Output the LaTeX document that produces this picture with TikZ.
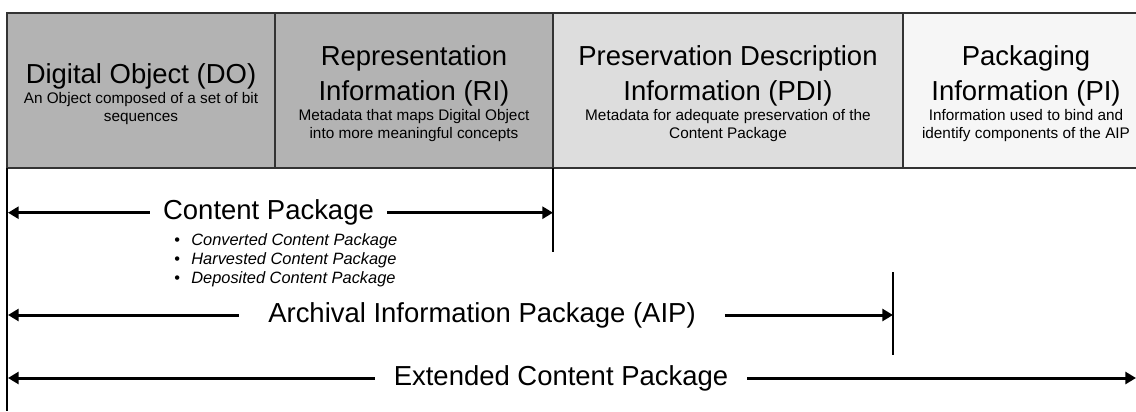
\documentclass[tikz,border=0pt]{standalone}
\usepackage{fontspec}
\setmainfont{Liberation Sans}
\usetikzlibrary{arrows.meta,positioning}

\definecolor{darkCell}{RGB}{179,179,179}
\definecolor{midCell}{RGB}{221,221,221}
\definecolor{lightCell}{RGB}{246,246,246}
\definecolor{edgeGray}{RGB}{51,51,51}

\newcommand{\headsize}{\fontsize{20.6}{26.25}\selectfont}
\newcommand{\subsize}{\fontsize{11.5}{13.5}\selectfont}
\newcommand{\listsize}{\fontsize{12.3}{14.25}\selectfont}

\begin{document}
\begin{tikzpicture}[x=0.75pt,y=-0.75pt,
    cell/.style={draw=edgeGray, line width=0.9pt},
    head/.style={font=\headsize, align=center, inner sep=0pt},
    sub/.style={font=\subsize, align=center, inner sep=0pt},
    tick/.style={draw=black, line width=0.8pt},
    spanleft/.style={line width=2.25pt, {Triangle[length=8pt,width=9pt]}-},
    spanright/.style={line width=2.25pt, -{Triangle[length=8pt,width=9pt]}}]
    \clip (0,0) rectangle (1136,411);

    % Cells
    \filldraw[cell, fill=darkCell]  (7,13) rectangle (275,168);
    \filldraw[cell, fill=darkCell]  (275,13) rectangle (553,168);
    \filldraw[cell, fill=midCell]   (553,13) rectangle (903,168);
    \filldraw[cell, fill=lightCell] (903,13) rectangle (1149,168);

    % Cell texts
    \node[head, anchor=north] (doHead) at (141,63) {Digital Object (DO)};
    \node[sub, below=2.25pt of doHead] (doSub) {An Object composed of a set of bit\\sequences};

    \node[head, anchor=north] (riHead) at (414,45) {Representation\\Information (RI)};
    \node[sub, below=2.25pt of riHead] (riSub) {Metadata that maps Digital Object\\into more meaningful concepts};

    \node[head, anchor=north] (pdiHead) at (728,45) {Preservation Description\\Information (PDI)};
    \node[sub, below=2.25pt of pdiHead] (pdiSub) {Metadata for adequate preservation of the\\Content Package};

    \node[head, anchor=north] (piHead) at (1026,45) {Packaging\\Information (PI)};
    \node[sub, below=2.25pt of piHead] (piSub) {Information used to bind and\\identify components of the AIP};

    % Boundary lines
    \draw[tick] (7,168) -- (7,411);
    \draw[tick] (553,168) -- (553,252);
    \draw[tick] (893,272) -- (893,355);

    % Content Package
    \coordinate (cpLeft) at (8,212.7);
    \coordinate (cpRight) at (553,212.7);
    \node[head, inner xsep=10pt] (cp) at (268.5,212.7) {Content Package};
    \draw[spanleft] (cpLeft) -- (cp.west);
    \draw[spanright] (cp.east) -- (cpRight);
    \node[font=\listsize, align=left, inner sep=0pt, anchor=north west] (cpList) at (174,233.2)
      {\textbullet\hspace{8.5pt}\textit{Converted Content Package}\\
       \textbullet\hspace{8.5pt}\textit{Harvested Content Package}\\
       \textbullet\hspace{8.5pt}\textit{Deposited Content Package}};

    % Archival Information Package
    \coordinate (aipLeft) at (8,315);
    \coordinate (aipRight) at (893,315);
    \node[head, inner xsep=21.75pt] (aip) at (482,315) {Archival Information Package (AIP)};
    \draw[spanleft] (aipLeft) -- (aip.west);
    \draw[spanright] (aip.east) -- (aipRight);

    % Extended Content Package
    \coordinate (ecpLeft) at (8,378);
    \coordinate (ecpRight) at (1136,378);
    \node[head, inner xsep=14pt] (ecp) at (561,378) {Extended Content Package};
    \draw[spanleft] (ecpLeft) -- (ecp.west);
    \draw[spanright] (ecp.east) -- (ecpRight);
\end{tikzpicture}
\end{document}
